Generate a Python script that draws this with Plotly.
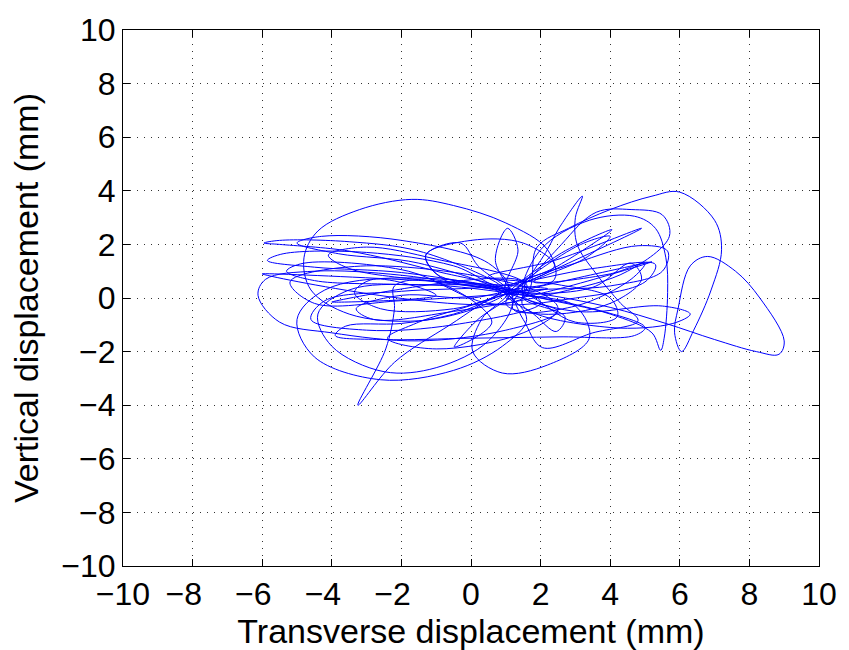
import plotly.graph_objects as go

# Trajectory waypoints (transverse, vertical) in mm
transverse = [
    0.9, 2.4, 2.2, 1.0, -0.5, -1.7, -3.2, -4.4, -4.8, -4.6, -3.5, -1.5, 0.3,
    1.0, -1.0, -3.5, -5.5, -5.95, -5.5, -3.5, -1.5, 0.7,
    1.2, 0.7, 1.05, 1.35, 1.0,
    2.2, -6.0, 1.5,
    1.9, 2.8, 4.0, 5.2, 6.0, 7.0, 7.2, 6.9, 6.4, 6.05, 5.85, 5.95, 6.3, 6.8, 7.6, 8.3, 9.0, 8.85, 8.2, 7.0, 5.6, 4.0, 2.0,
    0.8, -2.0, -4.5, -5.9, -6.12, -5.5, -4.0, -1.5, 1.0, 2.5, 1.5,
    2.0, 3.4, 4.7, 5.3, 5.6, 5.65, 5.55, 5.45, 5.2, 4.0, 2.0,
    0.9, -2.0, -4.5, -5.85, -5.4, -3.0, -0.5, 1.2,
    2.0, 2.55, 3.2, 3.0, 3.05, 3.6, 4.3, 4.8, 3.5, 2.05, 1.5, 1.0,
    -2.0, -4.2, -5.0, -4.5, -2.6, -0.5, 0.9, 1.6, 1.0,
    -1.5, -3.8, -5.0, -4.3, -2.0, 0.5, 1.1,
    0.3, 0.05, 0.9, 2.2, 3.4, 3.0, 1.0,
    3.0, 4.8, 5.65, 5.5, 4.0, 1.2,
    -0.5, -2.0, -3.6, -3.9, -2.5, 0.0, 2.5, 4.7, 5.0, 3.5, 1.0,
    -1.5, -3.5, -4.4, -4.0, -2.5, -1.0, 0.5, 1.2,
    0.2, -0.3, -1.3, -1.0, 0.5,
    3.0, 5.5, 6.3, 5.8, 4.0, 1.5,
    1.5, -4.0, -1.0,
    -2.8, -3.35, -2.6, -0.5, 0.9,
    5.2, 1.0,
    2.5, 4.05, 2.5, 1.0,
    1.8, 2.45, 2.7, 1.5,
    1.6, -1.0, -3.0, -4.1, -3.5, -1.0, 1.8,
    2.0, -0.5, -3.0, -4.6, -4.2, -2.0, 0.8,
    3.5, 5.3, 5.0, 3.0, 0.5,
    -1.8, -4.8, -5.3, -4.5, -2.0, 1.3,
    3.0, 4.2, 4.0, 2.5, 0.5,
    2.4, 4.9, 2.8, 1.4,
    2.4, 1.5, 0.0, -1.3, -0.8, 0.8,
    -1.5, -2.4, -1.0, 1.5, 2.5, 1.8,
    -3.0, -5.2, -4.5, -2.0, 0.5,
    3.5, 4.6, 4.9, 4.0, 2.0, 1.0,
    3.0, 4.0, 3.3, 1.8,
    4.0, 5.0, 4.6, 3.0, 1.2,
    2.6, 3.6, 4.6, 5.5, 5.7, 4.5, 2.5,
    -0.5, -2.8, -3.3, -2.0, 0.0, 1.4,
    0.2, -0.48, 0.6,
    -1.0, -2.2, -2.2, -2.45, -3.25, -2.2, -0.6, 0.9,
]
vertical = [
    0.2, 0.7, 1.8, 2.8, 3.45, 3.68, 3.3, 2.5, 1.5, 0.3, -0.6, -0.85, -0.3,
    0.25, 1.0, 1.75, 2.0, 2.05, 2.15, 2.1, 1.75, 0.6,
    0.1, 1.4, 2.6, 1.8, 0.3,
    0.35, 0.9, 0.0,
    1.9, 2.6, 3.3, 3.8, 3.95, 2.9, 1.8, 0.3, -1.2, -2.0, -1.3, -0.4, 1.2, 1.55, 1.0, 0.0, -1.6, -2.1, -2.0, -1.55, -0.95, -0.35, 0.15,
    0.3, 0.85, 1.0, 0.7, 0.1, -0.9, -1.3, -1.6, -1.2, -0.5, 0.1,
    1.8, 2.9, 3.05, 2.6, 1.5, 0.2, -1.5, -1.95, -1.3, -0.6, 0.0,
    0.35, 0.95, 1.15, 1.4, 1.65, 1.7, 1.2, 0.3,
    1.4, 2.65, 3.8, 3.0, 2.0, 0.9, -0.2, -0.85, -1.3, -1.85, -0.8, 0.2,
    0.75, 0.3, -0.8, -2.2, -3.05, -2.7, -1.8, -0.8, 0.15,
    1.3, 1.65, 2.05, 2.3, 2.15, 1.3, 0.3,
    -0.8, -2.0, -2.8, -2.5, -1.5, -0.3, 0.3,
    1.3, 1.95, 1.75, 1.0, 0.45, 0.2,
    -0.6, -0.95, -1.05, -1.4, -1.55, -1.5, -1.45, -1.4, -1.1, -0.4, 0.2,
    0.5, 0.3, -0.6, -1.8, -2.75, -2.6, -1.6, 0.0,
    1.2, 2.05, 1.6, 0.9, 0.4,
    -0.5, -0.3, -0.6, -0.95, -1.1, -0.3,
    0.6, -0.15, 0.1,
    0.7, 0.2, -0.4, -0.4, 0.1,
    1.35, 0.0,
    1.6, 2.55, 1.2, 0.2,
    -0.6, -1.25, -0.7, 0.0,
    0.5, 1.45, 1.9, 1.6, 1.1, 0.6, 0.1,
    -0.2, -1.0, -1.2, -0.8, -0.1, 0.25, 0.45,
    1.1, 1.25, 0.6, 0.0, -0.2,
    1.0, 1.3, 1.0, 0.65, 0.5, 0.3,
    -0.9, -0.7, 0.0, 0.5, 0.8,
    1.4, 2.6, 1.3, 0.5,
    1.2, 2.05, 2.15, 1.6, 0.7, 0.2,
    -0.9, -1.5, -1.9, -1.3, -0.4, 0.3,
    1.2, 0.6, -0.2, -0.1, 0.1,
    0.4, 1.3, 0.7, -0.2, -0.6, -0.2,
    1.9, 2.3, 1.5, 0.6,
    0.9, 1.3, 0.7, -0.3, -0.4,
    2.0, 3.2, 3.3, 3.1, 2.3, 1.0, 0.2,
    -0.5, -0.8, -0.4, 0.1, 0.0, 0.3,
    -0.8, -1.83, -0.9,
    0.6, 0.45, -0.4, -1.9, -4.0, -2.4, -1.0, 0.2,
]

tick_vals = list(range(-10, 11, 2))
# MATLAB-style: negative x labels hang the minus sign left of the tick
# (the corner label -10 is kept centred so it does not collide with the y label)
x_tick_text = [
    (str(v).replace("-", "\u2212") + ("\u2007" if v > -10 else "")) if v < 0 else str(v)
    for v in tick_vals
]
y_tick_text = [str(v).replace("-", "\u2212") for v in tick_vals]

fig = go.Figure()
fig.add_trace(go.Scatter(
    x=transverse, y=vertical, mode="lines",
    line=dict(color="#0000FF", width=1, shape="spline", smoothing=1.0),
    showlegend=False, hoverinfo="skip",
))

tick_font = dict(family="Liberation Sans, Arial, sans-serif", size=32, color="black")
title_font = dict(family="Liberation Sans, Arial, sans-serif", size=34, color="black")
axis_common = dict(
    range=[-10, 10], tickvals=tick_vals,
    ticks="inside", ticklen=7, tickcolor="black", tickwidth=1,
    showline=True, linecolor="black", linewidth=1, mirror="ticks",
    showgrid=True, gridcolor="#333333", gridwidth=1, griddash="1px,6px",
    zeroline=False, tickfont=tick_font, fixedrange=True,
)
fig.update_layout(
    width=849, height=650,
    margin=dict(l=123, r=24, t=20, b=84),
    paper_bgcolor="white", plot_bgcolor="white",
    xaxis=dict(**axis_common, ticktext=x_tick_text,
               title=dict(text="Transverse displacement (mm)", font=title_font, standoff=2)),
    yaxis=dict(**axis_common, ticktext=y_tick_text,
               title=dict(text="Vertical displacement (mm)", font=title_font, standoff=12)),
)
fig.write_html("out.html")
